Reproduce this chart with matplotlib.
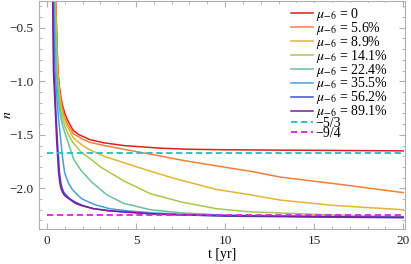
import matplotlib
matplotlib.use("Agg")
import matplotlib.pyplot as plt
from matplotlib.ticker import MultipleLocator

plt.rcParams['font.family'] = ['Liberation Serif', 'DejaVu Serif']
plt.rcParams['mathtext.fontset'] = 'stix'

# values, t in years
t_red = [0.42, 0.49, 0.61, 0.7, 0.78, 0.86, 1.0, 1.2, 1.48, 1.8, 2.08, 2.4, 3.2, 4.3, 6.35, 8, 10, 15, 20]
n_red = [-0.1, -0.25, -0.9, -1.06, -1.15, -1.22, -1.30, -1.38, -1.46, -1.50, -1.52, -1.545, -1.575, -1.60, -1.625, -1.635, -1.64, -1.645, -1.65]

t_orange = [0.41, 0.48, 0.60, 0.68, 0.75, 0.82, 0.95, 1.15, 1.48, 2.0, 2.4, 3.2, 4.3, 5.8, 7.66, 9.5, 11.4, 13.1, 16.3, 20]
n_orange = [-0.1, -0.25, -0.9, -1.06, -1.15, -1.22, -1.32, -1.40, -1.49, -1.54, -1.57, -1.60, -1.635, -1.68, -1.74, -1.79, -1.84, -1.895, -1.96, -2.04]

t_yellow = [0.40, 0.47, 0.58, 0.66, 0.72, 0.78, 0.9, 1.1, 1.48, 2.0, 2.4, 3.2, 4.3, 5.8, 7.0, 7.66, 9.5, 11.4, 13.1, 16.1, 20]
n_yellow = [-0.1, -0.25, -0.9, -1.06, -1.15, -1.22, -1.32, -1.41, -1.53, -1.60, -1.64, -1.70, -1.76, -1.84, -1.90, -1.93, -2.01, -2.06, -2.11, -2.16, -2.20]

t_ygreen = [0.38, 0.45, 0.56, 0.63, 0.68, 0.72, 0.84, 1.0, 1.2, 1.45, 1.9, 2.4, 3.0, 4.0, 4.3, 5.8, 7.6, 9.5, 11.4, 13.1, 16, 20]
n_ygreen = [-0.1, -0.25, -0.9, -1.06, -1.15, -1.22, -1.33, -1.42, -1.50, -1.57, -1.66, -1.72, -1.80, -1.90, -1.93, -2.05, -2.13, -2.19, -2.22, -2.23, -2.25, -2.265]

t_teal = [0.36, 0.42, 0.52, 0.59, 0.63, 0.67, 0.75, 0.85, 1.0, 1.14, 1.5, 1.9, 2.5, 3.35, 4.3, 5.8, 7.6, 10, 13, 16, 20]
n_teal = [-0.1, -0.25, -0.9, -1.06, -1.15, -1.22, -1.32, -1.40, -1.48, -1.55, -1.73, -1.83, -1.94, -2.06, -2.14, -2.20, -2.23, -2.25, -2.26, -2.265, -2.27]

t_lblue = [0.33, 0.38, 0.45, 0.55, 0.66, 0.77, 0.88, 0.99, 1.2, 1.42, 1.7, 1.98, 2.64, 3.5, 4.5, 6, 8, 10, 13, 16, 20]
n_lblue = [-0.1, -0.25, -0.9, -1.15, -1.37, -1.55, -1.72, -1.855, -1.95, -2.01, -2.06, -2.10, -2.15, -2.19, -2.21, -2.23, -2.245, -2.255, -2.26, -2.265, -2.27]

t_blue = [0.30, 0.34, 0.39, 0.48, 0.58, 0.70, 0.78, 0.85, 0.95, 1.05, 1.3, 1.6, 2.0, 2.6, 3.5, 4.3, 6, 8, 10, 13, 16, 20]
n_blue = [-0.1, -0.25, -0.9, -1.22, -1.55, -1.85, -1.95, -2.0, -2.04, -2.06, -2.10, -2.13, -2.16, -2.19, -2.21, -2.22, -2.24, -2.25, -2.26, -2.265, -2.27, -2.275]

t_purple = [0.28, 0.32, 0.36, 0.45, 0.54, 0.65, 0.72, 0.78, 0.88, 1.0, 1.25, 1.6, 1.9, 2.6, 3.5, 4.3, 6, 8, 10, 13, 16, 20]
n_purple = [-0.1, -0.25, -0.9, -1.22, -1.55, -1.85, -1.95, -2.0, -2.04, -2.07, -2.10, -2.14, -2.16, -2.19, -2.21, -2.22, -2.24, -2.25, -2.255, -2.26, -2.265, -2.27]

labels = ['0', '5.6%', '8.9%', '14.1%', '22.4%', '35.5%', '56.2%', '89.1%']
colors = ['#e41f1f', '#f0803a', '#e2b534', '#a7c84c', '#6ec095', '#4a9ed8', '#3c4fd6', '#7a1f9c']

curves = [(t_red, n_red), (t_orange, n_orange), (t_yellow, n_yellow), (t_ygreen, n_ygreen),
          (t_teal, n_teal), (t_lblue, n_lblue), (t_blue, n_blue), (t_purple, n_purple)]

fig = plt.figure(figsize=(4.11, 2.64), dpi=100)
ax = fig.add_axes([39/411, 35/264, 366/411, 228/264])

for (t, n), lab, c in zip(curves, labels, colors):
    ax.plot(t, n, color=c, lw=1.1, label=r'$\mu_{-6}$ = ' + lab)

ax.plot([0, 20], [-5/3, -5/3], color='#1fc0c0', lw=1.3, ls=(0, (3.5, 2)), label='−5/3')
ax.plot([0, 20], [-9/4, -9/4], color='#e020e0', lw=1.3, ls=(0, (3.5, 2)), label='−9/4')

ax.set_xlim(-0.45, 20.1)
ax.set_ylim(-2.38, -0.25)
ax.xaxis.set_major_locator(MultipleLocator(5))
ax.xaxis.set_minor_locator(MultipleLocator(1))
ax.yaxis.set_major_locator(MultipleLocator(0.5))
ax.yaxis.set_minor_locator(MultipleLocator(0.1))
ax.tick_params(which='both', direction='in', top=True, right=True, color='#b0b0b0',
               labelsize=9.5, labelcolor='#222222', pad=4)
ax.tick_params(which='major', length=4)
ax.tick_params(which='minor', length=2)
for s in ax.spines.values():
    s.set_color('#b0b0b0')

ax.set_xlabel('t [yr]', fontsize=10, labelpad=1)
ax.set_ylabel(r'$n$', fontsize=10)
ax.yaxis.set_label_coords(-25/366, 0.5)

leg = ax.legend(loc='upper left', bbox_to_anchor=(288/411, 1 - 3/264), bbox_transform=fig.transFigure,
                frameon=True, fontsize=10, handlelength=1.6, handletextpad=0.2,
                labelspacing=-0.22, borderpad=0.2, borderaxespad=0)
leg.get_frame().set_edgecolor('none')
leg.get_frame().set_facecolor('white')
leg.get_frame().set_alpha(1.0)

fig.savefig('out.png', dpi=100)
